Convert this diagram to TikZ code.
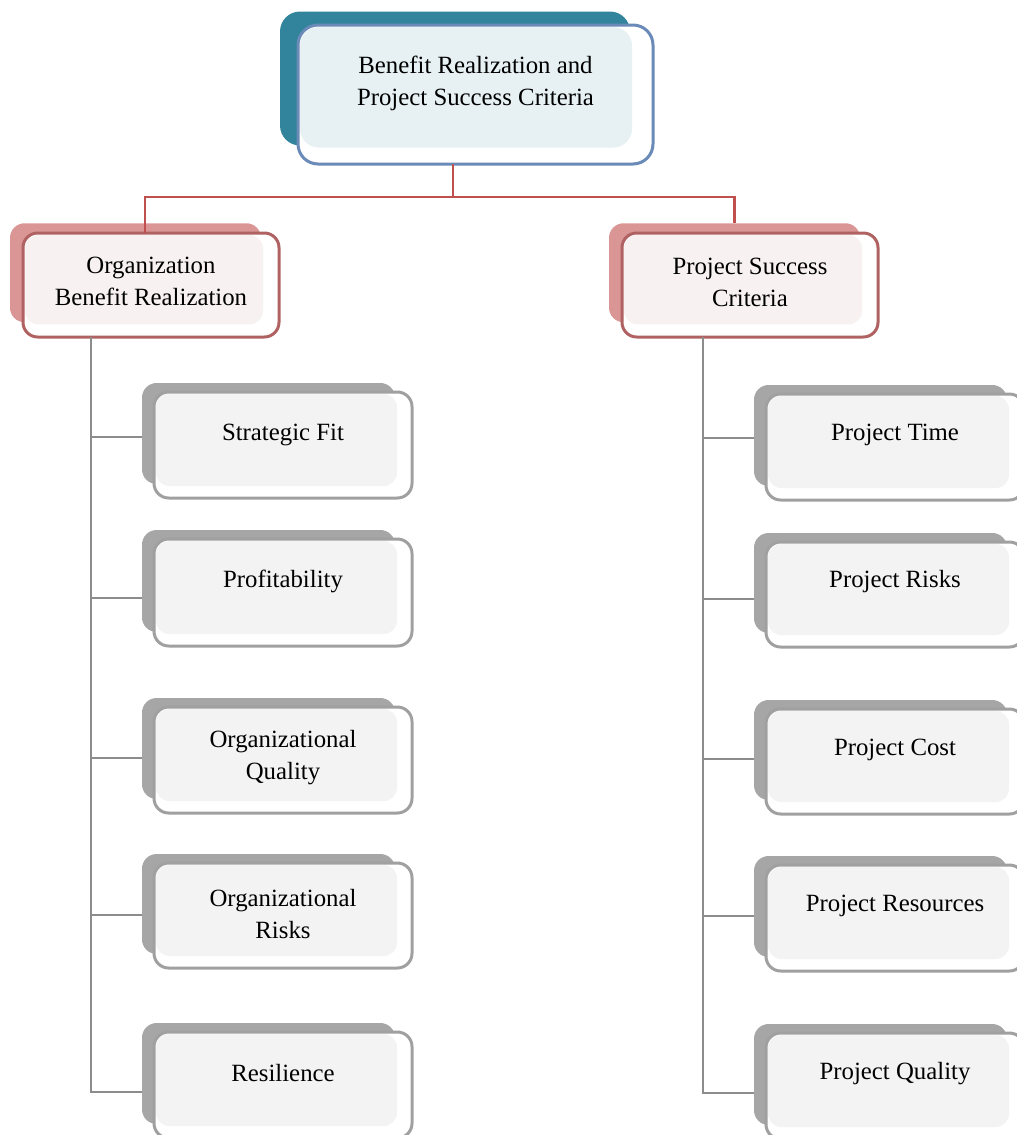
\documentclass[tikz,border=0pt]{standalone}
\usepackage{fontspec}
\setmainfont{Liberation Serif}
\usetikzlibrary{calc}

\definecolor{tealsh}{HTML}{31849B}
\definecolor{bluebd}{HTML}{6A8AB8}
\definecolor{bluein}{HTML}{E7F1F4}
\definecolor{redsh}{HTML}{D99694}
\definecolor{redbd}{HTML}{B06262}
\definecolor{redin}{HTML}{F8F1F1}
\definecolor{graysh}{HTML}{A6A6A6}
\definecolor{graybd}{HTML}{A0A0A0}
\definecolor{grayin}{HTML}{F3F3F3}
\definecolor{redln}{HTML}{C0504D}
\definecolor{grayln}{HTML}{8C8C8C}

\newlength\pxu
\setlength\pxu{0.75pt}

\tikzset{
  base/.style={inner sep=0pt, outer sep=0pt, rectangle},
  % palettes: shadow, front, inner fill
  blsh/.style={base, fill=tealsh, rounded corners=15pt},
  blfr/.style={base, fill=white, draw=bluebd, line width=2.25pt, rounded corners=15pt},
  blin/.style={fill=bluein, rounded corners=14pt},
  rdsh/.style={base, fill=redsh, rounded corners=11pt},
  rdfr/.style={base, fill=white, draw=redbd, line width=2.25pt, rounded corners=11pt},
  rdin/.style={fill=redin, rounded corners=10pt},
  grsh/.style={base, fill=graysh, rounded corners=11pt},
  grfr/.style={base, fill=white, draw=graybd, line width=2.25pt, rounded corners=11pt},
  grin/.style={fill=grayin, rounded corners=10pt},
  label/.style={inner sep=0pt, align=center, font=\fontsize{18.6}{24}\selectfont},
  rline/.style={draw=redln, line width=1.6pt},
  gline/.style={draw=grayln, line width=1.6pt},
}

% \card{name}{left}{top}{right}{bottom}{palette}{offset}{text y}{text}
\newcommand\card[9]{%
  \pgfmathsetmacro\cardw{#4-#2}%
  \pgfmathsetmacro\cardh{#5-#3}%
  \node[#6sh, anchor=north west, minimum width=(\cardw-5)*\pxu,
        minimum height=(\cardh-5)*\pxu] (#1-s) at ({#2-#7},{#3-0.75*#7}) {};
  \node[#6fr, anchor=north west, minimum width=\cardw*\pxu,
        minimum height=\cardh*\pxu] (#1) at (#2,#3) {};
  \fill[#6in] ({#2+2},{#3+2}) rectangle ({#4-#7-3},{#5-0.75*#7-3});
  \node[label] (#1-t) at ({(#2+#4)/2},#8) {#9};
}

\begin{document}
\begin{tikzpicture}[x=0.75pt, y=-0.75pt]
  \useasboundingbox (0,0) rectangle (1017,1135);
  \clip (0,0) rectangle (1017,1135);

  % connector anchors
  \coordinate (rbar) at (453,197);
  \coordinate (lt) at (91,337);
  \coordinate (rt) at (703,337);
  \coordinate (sf-c) at (0,437);
  \coordinate (pf-c) at (0,598);
  \coordinate (oq-c) at (0,758);
  \coordinate (orr-c) at (0,915);
  \coordinate (rs-c) at (0,1092);
  \coordinate (pt-c) at (0,438);
  \coordinate (pr-c) at (0,599);
  \coordinate (pc-c) at (0,759);
  \coordinate (pres-c) at (0,916);
  \coordinate (pq-c) at (0,1093);

  % boxes
  \card{top}{298}{25}{653}{164}{bl}{18}{83}{Benefit Realization and\\Project Success Criteria}
  \card{obr}{23}{233}{279}{337}{rd}{13}{281}{Organization\\Benefit Realization}
  \card{psc}{622}{233}{878}{337}{rd}{13}{282}{Project Success\\Criteria}

  \card{sf}{154}{392}{412}{498}{gr}{12}{435}{Strategic Fit}
  \card{pf}{154}{539}{412}{646}{gr}{12}{581}{Profitability}
  \card{oq}{154}{707}{412}{813}{gr}{12}{758}{Organizational\\Quality}
  \card{orr}{154}{863}{412}{968}{gr}{12}{914}{Organizational\\Risks}
  \card{rs}{154}{1032}{412}{1138}{gr}{12}{1073}{Resilience}

  \card{pt}{766}{394}{1024}{500}{gr}{12}{435}{Project Time}
  \card{pr}{766}{542}{1024}{647}{gr}{12}{582}{Project Risks}
  \card{pc}{766}{709}{1024}{814}{gr}{12}{750}{Project Cost}
  \card{pres}{766}{865}{1024}{971}{gr}{12}{906}{Project Resources}
  \card{pq}{766}{1033}{1024}{1139}{gr}{12}{1074}{Project Quality}

  % red connectors from the root to the two branches
  \draw[rline] (top.south -| rbar) -- (rbar);
  \draw[rline] ([xshift=-4.5pt]obr.north) |- (rbar) -| (psc-s.north);

  % grey trunks and branches
  \draw[gline] (lt) |- (rs-s.west |- rs-c);
  \foreach \n in {sf,pf,oq,orr}
    \draw[gline] (lt |- \n-c) -- (\n-s.west |- \n-c);
  \draw[gline] (rt) |- (pq-s.west |- pq-c);
  \foreach \n in {pt,pr,pc,pres}
    \draw[gline] (rt |- \n-c) -- (\n-s.west |- \n-c);
\end{tikzpicture}
\end{document}
